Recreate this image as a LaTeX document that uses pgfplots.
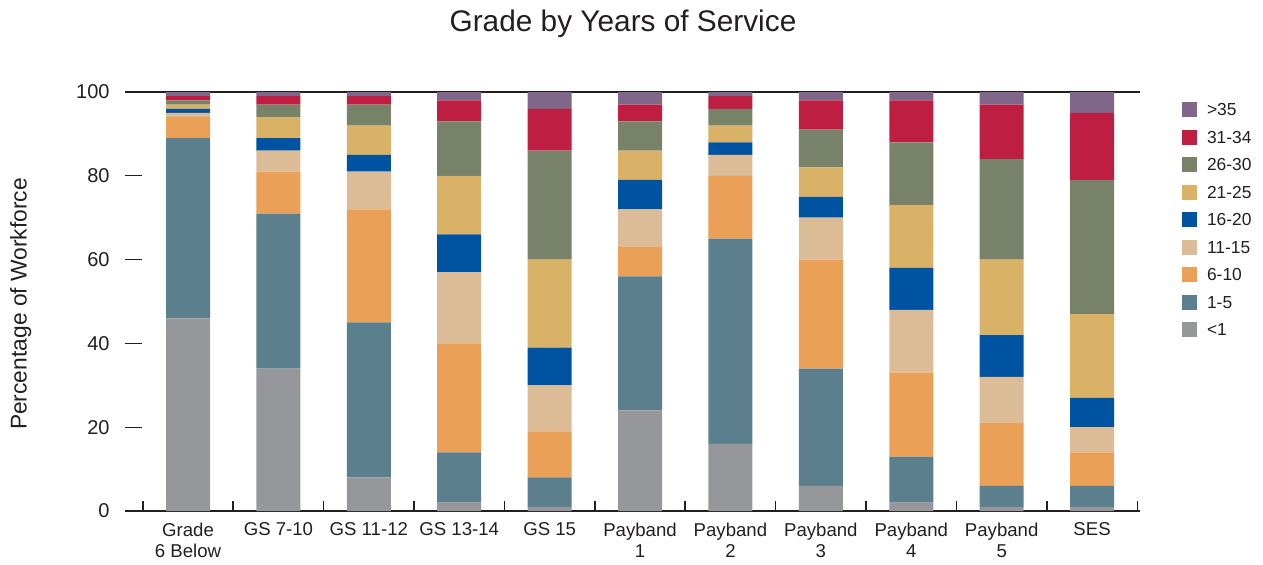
\documentclass[border=0pt]{standalone}
\usepackage{fontspec}
\setmainfont{Liberation Sans}
\usepackage{pgfplots}
\usepackage{pgfplotstable}
\pgfplotsset{compat=1.18}
\definecolor{cLT}{HTML}{96979B}
\definecolor{cA}{HTML}{5B7F8C}
\definecolor{cB}{HTML}{EAA057}
\definecolor{cC}{HTML}{DCBB97}
\definecolor{cD}{HTML}{0053A0}
\definecolor{cE}{HTML}{D9B268}
\definecolor{cF}{HTML}{788268}
\definecolor{cG}{HTML}{BE1E42}
\definecolor{cH}{HTML}{80678A}
\definecolor{axc}{HTML}{231F20}
\pgfplotstableread{
x lt a b c d e f g h
0 46 43 5 1 1 1 1 1 1
1 34 37 10 5 3 5 3 2 1
2 8 37 27 9 4 7 5 2 1
3 2 12 26 17 9 14 13 5 2
4 1 7 11 11 9 21 26 10 4
5 24 32 7 9 7 7 7 4 3
6 16 49 15 5 3 4 4 3 1
7 6 28 26 10 5 7 9 7 2
8 2 11 20 15 10 15 15 10 2
9 1 5 15 11 10 18 24 13 3
10 1 5 8 6 7 20 32 16 5
}\data
\begin{document}
\begin{tikzpicture}
\useasboundingbox (-62.5pt,-26.5pt) rectangle (569pt,255.5pt);
\begin{axis}[
  at={(0,0)}, anchor=south west,
  scale only axis, width=507.5pt, height=209.5pt,
  xmin=-0.697, xmax=10.53, ymin=0, ymax=100,
  enlargelimits=false, clip=false,
  ybar stacked, bar width=22pt,
  axis x line=bottom, axis y line=left,
  x axis line style={-, line width=1.2pt, color=axc},
  y axis line style={draw=none},
  tick align=inside,
  major tick length=8.5pt,
  minor tick length=5pt,
  ytick={0,20,40,60,80,100},
  ytick style={line width=0.6pt, color=axc},
  yticklabel style={font=\fontsize{10}{12}\selectfont, xshift=-4.2pt, text=axc},
  xtick={0,...,10},
  xticklabels={Grade\\6 Below, GS 7-10, GS 11-12, GS 13-14, GS 15, Payband\\1, Payband\\2, Payband\\3, Payband\\4, Payband\\5, SES},
  xticklabel style={font=\fontsize{9.3}{10.5}\selectfont, align=center, yshift=-2.4pt, text=axc},
  major x tick style={draw=none},
  minor xtick={-0.5,0.5,...,10.5},
  minor x tick style={line width=0.8pt, color=axc},
  /pgf/number format/assume math mode=true,
  reverse legend,
  legend cell align=left,
  legend image code/.code={\fill[#1] (0pt,-3.75pt) rectangle (7.5pt,3.75pt);},
  legend style={at={(1.0414,0.975)}, anchor=north west, draw=none, fill=none,
    inner sep=0pt, outer sep=0pt, row sep=6.25pt, column sep=5pt,
    font=\fontsize{8.7}{10}\selectfont,
    nodes={inner sep=0pt, text height=6pt, text depth=0pt, text=axc}},
]
\addplot[fill=cLT, draw=none] table[x=x,y=lt]{\data};
\addplot[fill=cA, draw=none] table[x=x,y=a]{\data};
\addplot[fill=cB, draw=none] table[x=x,y=b]{\data};
\addplot[fill=cC, draw=none] table[x=x,y=c]{\data};
\addplot[fill=cD, draw=none] table[x=x,y=d]{\data};
\addplot[fill=cE, draw=none] table[x=x,y=e]{\data};
\addplot[fill=cF, draw=none] table[x=x,y=f]{\data};
\addplot[fill=cG, draw=none] table[x=x,y=g]{\data};
\addplot[fill=cH, draw=none] table[x=x,y=h]{\data};
\legend{<1,1-5,6-10,11-15,16-20,21-25,26-30,31-34,>35}
\draw[line width=1.2pt, color=axc] (rel axis cs:0,1) -- (rel axis cs:1,1);
\end{axis}
\node[anchor=base, font=\fontsize{14.9}{16}\selectfont, text=axc] at (249pt,240pt) {Grade by Years of Service};
\node[anchor=base, rotate=90, font=\fontsize{11.4}{13}\selectfont, text=axc] at (-49.2pt,103.5pt) {Percentage of Workforce};
\end{tikzpicture}
\end{document}
